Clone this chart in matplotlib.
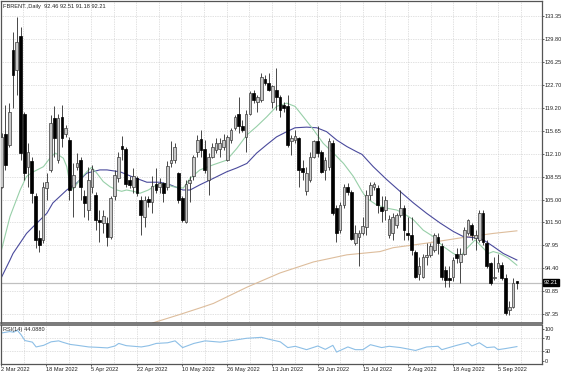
import numpy as np
import matplotlib
matplotlib.use("Agg")
import matplotlib.pyplot as plt
from matplotlib.transforms import blended_transform_factory

plt.rcParams['font.family'] = ['Liberation Sans', 'DejaVu Sans']

# FBRENT daily candles (one entry per bar, 2 Mar - Sep 2022)
opens = [107.0, 115.2, 113.5, 128.1, 125.0, 130.2, 118.3, 110.1, 110.9, 105.5,
         99.1, 98.8, 106.8, 109.6, 117.6, 111.1, 117.8, 115.2, 114.2, 107.0,
         110.1, 111.1, 105.5, 103.4, 107.0, 105.7, 101.9, 101.4, 101.4, 99.3,
         105.5, 108.3, 113.3, 112.9, 108.0, 107.0, 108.3, 105.0, 102.4, 105.1,
         104.7, 107.4, 107.0, 107.6, 107.0, 110.6, 111.1, 109.1, 105.2, 101.6,
         107.6, 108.6, 112.4, 114.3, 112.8, 108.1, 111.6, 112.7, 112.8, 113.2,
         111.1, 114.2, 116.0, 118.3, 116.3, 114.7, 118.3, 121.4, 120.1, 120.4,
         123.7, 123.0, 120.1, 121.9, 120.9, 119.6, 119.4, 114.0, 114.2, 114.5,
         109.9, 106.3, 108.1, 111.6, 114.0, 112.4, 109.6, 110.1, 113.7, 103.7,
         100.3, 104.2, 107.0, 106.2, 98.3, 99.2, 99.8, 100.8, 105.7, 107.0,
         106.8, 103.9, 103.4, 99.6, 99.8, 101.1, 102.6, 103.7, 99.8, 99.6,
         97.0, 93.6, 93.1, 96.2, 96.5, 97.3, 99.3, 97.8, 94.2, 92.9,
         93.1, 96.6, 95.4, 96.7, 99.8, 101.1, 99.1, 98.8, 102.9, 98.3,
         95.2, 92.9, 94.4, 94.9, 92.9, 88.0, 88.5, 92.46]
highs = [115.3, 119.6, 119.9, 130.9, 133.2, 131.7, 118.6, 113.7, 111.6, 106.0,
         100.3, 107.8, 109.1, 118.1, 119.5, 118.3, 119.6, 116.5, 114.7, 110.6,
         112.2, 111.6, 106.5, 110.1, 110.4, 106.2, 103.4, 103.4, 102.4, 105.5,
         109.6, 112.4, 114.8, 113.2, 108.6, 109.9, 108.6, 105.5, 105.5, 105.5,
         108.6, 109.9, 108.3, 107.8, 110.9, 114.0, 113.7, 109.3, 105.5, 108.0,
         108.6, 111.9, 115.0, 115.8, 114.2, 112.2, 113.7, 114.5, 114.5, 115.2,
         115.0, 116.0, 118.1, 120.9, 117.3, 118.8, 121.7, 121.9, 121.2, 124.5,
         124.2, 124.5, 122.7, 125.3, 121.2, 120.1, 121.2, 115.0, 115.8, 114.7,
         111.1, 110.1, 112.4, 114.2, 116.3, 112.7, 111.6, 114.5, 114.2, 104.2,
         104.7, 107.5, 107.6, 106.5, 101.1, 100.3, 102.4, 106.5, 107.8, 107.8,
         107.3, 105.5, 105.5, 102.6, 102.9, 102.9, 106.5, 104.2, 102.4, 102.4,
         97.3, 96.2, 96.7, 98.3, 98.3, 99.8, 99.8, 98.3, 94.7, 94.7,
         96.2, 97.5, 97.5, 100.8, 102.1, 101.4, 100.3, 103.4, 103.4, 98.8,
         95.4, 96.2, 96.7, 95.4, 93.6, 89.3, 92.9, 92.51]
lows = [106.8, 109.6, 113.2, 119.1, 121.2, 111.1, 108.0, 107.0, 104.5, 97.5,
        97.0, 98.3, 105.0, 109.3, 111.6, 110.6, 113.2, 114.7, 105.0, 102.4,
        109.6, 105.0, 102.4, 101.9, 106.0, 100.3, 98.5, 99.8, 97.8, 99.0,
        105.0, 107.8, 111.1, 107.0, 106.8, 106.0, 105.5, 99.6, 100.8, 103.9,
        102.9, 106.0, 106.0, 104.7, 106.5, 110.1, 110.6, 104.5, 101.6, 101.4,
        104.7, 108.0, 111.6, 111.6, 109.1, 105.7, 111.4, 112.2, 111.6, 112.7,
        110.9, 113.7, 115.8, 115.3, 115.5, 112.4, 118.1, 119.9, 118.6, 120.1,
        122.7, 121.7, 119.1, 118.8, 117.8, 118.6, 113.2, 111.9, 113.7, 107.0,
        108.0, 105.7, 107.8, 111.4, 111.6, 109.1, 108.0, 109.6, 102.6, 98.5,
        99.8, 103.7, 105.7, 98.8, 98.0, 94.7, 99.6, 99.6, 104.9, 106.5,
        102.9, 101.6, 101.9, 99.1, 98.8, 100.6, 102.4, 98.8, 98.8, 96.5,
        92.9, 92.6, 92.9, 94.9, 96.2, 97.0, 96.7, 92.6, 91.6, 91.6,
        92.4, 95.2, 92.1, 96.5, 99.6, 98.8, 97.3, 98.5, 98.0, 94.4,
        91.9, 92.6, 93.9, 92.6, 87.2, 87.2, 88.3, 91.18]
closes = [114.7, 110.4, 118.6, 124.3, 129.4, 112.2, 109.1, 112.4, 106.0, 98.8,
          98.0, 107.0, 107.8, 116.8, 114.5, 117.6, 114.5, 116.1, 106.5, 108.8,
          110.7, 107.0, 104.5, 108.1, 109.8, 101.9, 101.6, 102.5, 99.3, 105.2,
          108.8, 111.6, 112.9, 107.5, 107.3, 108.6, 106.0, 102.7, 105.0, 104.7,
          107.1, 106.5, 107.6, 106.0, 110.2, 111.1, 113.2, 105.0, 101.9, 107.5,
          108.1, 111.6, 114.2, 112.7, 109.6, 111.6, 113.2, 113.7, 113.8, 114.2,
          114.7, 115.8, 117.8, 116.3, 115.8, 118.3, 121.4, 120.4, 120.9, 124.0,
          123.0, 121.9, 122.5, 120.9, 118.8, 119.1, 113.5, 114.5, 114.8, 109.6,
          109.3, 109.1, 111.6, 114.0, 112.2, 109.3, 111.1, 114.0, 102.9, 99.8,
          104.2, 107.0, 106.2, 99.0, 99.8, 99.8, 100.9, 105.7, 107.3, 107.5,
          104.2, 103.2, 105.0, 102.1, 102.4, 102.6, 103.7, 100.3, 99.6, 97.3,
          93.1, 94.7, 96.2, 96.5, 97.8, 99.6, 98.3, 93.1, 92.6, 92.6,
          95.7, 96.0, 96.7, 100.3, 101.9, 99.6, 99.6, 102.9, 98.5, 94.7,
          92.1, 93.1, 95.2, 92.9, 87.5, 88.5, 92.1, 92.21]

# moving averages (bar index, value)
ma_fast_idx = [0, 2.2, 4.9, 6.6, 8.4, 11.1, 12.8, 14.2, 15.1, 16.4, 17.3, 18.2, 19.0, 20.8,
               22.6, 23.9, 25.3, 27.0, 28.8, 30.6, 31.9, 33.2, 35.0, 36.8, 39.0, 41.2,
               43.0, 45.6, 48.3, 50.1, 52.7, 56.3, 59.8, 62.5, 65.2, 67.8, 70.5, 73.1,
               75.8, 78.0, 80.2, 82.9, 85.5, 88.2, 90.9, 93.5, 95.8, 97.1, 99.7, 102.4,
               105.1, 106.8, 109.5, 112.1, 114.8, 117.4, 120.1, 121.9, 123.7, 125.9,
               128.1, 129.4, 130.7, 132.5, 134.7, 137.0]
ma_fast_val = [97.4, 102.4, 106.5, 108.6, 109.3, 110.1, 111.4, 112.2, 111.9, 111.4, 110.1,
               107.2, 106.6, 108.1, 109.3, 110.0, 109.1, 107.8, 107.0, 106.5, 106.3, 106.5,
               106.3, 106.0, 106.5, 107.3, 107.5, 107.0, 106.8, 108.3, 109.6, 110.4, 111.1,
               112.9, 115.0, 116.3, 117.8, 119.4, 119.9, 119.4, 117.8, 115.8, 113.7, 112.2,
               110.6, 108.6, 106.3, 105.2, 104.2, 103.7, 103.4, 102.9, 101.9, 100.3, 99.3,
               97.8, 96.7, 96.2, 97.5, 98.8, 97.5, 96.7, 97.0, 96.7, 96.0, 94.9]

ma_slow_idx = [0, 2.2, 3.0, 6.6, 8.3, 12.0, 13.6, 17.3, 20.0, 22.6, 26.1, 28.0, 31.5, 34.9,
               38.6, 42.1, 44.8, 48.2, 50.1, 52.7, 56.3, 59.8, 62.5, 65.2, 67.8, 70.5,
               73.1, 75.8, 78.0, 81.1, 83.8, 86.4, 89.1, 91.8, 94.4, 95.8, 98.8, 102.4,
               105.9, 109.5, 113.0, 116.6, 120.1, 122.8, 126.3, 128.1, 130.7, 133.4, 137.0]
ma_slow_val = [93.1, 95.7, 96.7, 99.8, 100.8, 102.9, 104.5, 106.5, 107.6, 109.1, 109.6,
               109.6, 109.3, 108.5, 107.7, 107.7, 107.3, 106.5, 106.5, 107.3, 108.3, 109.3,
               109.9, 110.6, 112.2, 113.5, 114.7, 115.5, 116.1, 116.2, 116.1, 115.5, 114.2,
               113.2, 112.4, 112.0, 110.1, 108.1, 106.3, 104.5, 102.9, 101.4, 100.1, 99.3,
               99.1, 98.8, 97.8, 96.7, 95.7]

ma_long_idx = [37.0, 40.2, 47.4, 52.7, 56.3, 65.2, 74.0, 82.9, 91.8, 100.6, 104.1, 113.0,
               121.9, 130.7, 137.0]
ma_long_val = [85.0, 86.0, 87.3, 88.3, 89.0, 91.5, 93.7, 95.4, 96.5, 97.0, 97.6, 98.3,
               99.1, 99.8, 100.2]

# RSI(14)
rsi_idx = [0, 2, 3, 4, 5, 6, 8, 9, 11, 13, 15, 16, 18, 20, 23, 25, 28, 30, 31, 33, 37,
           39, 41, 44, 46, 48, 51, 54, 58, 62, 65, 69, 71, 74, 76, 78, 81, 84, 86, 88,
           89, 92, 94, 96, 98, 101, 103, 106, 110, 113, 116, 117, 121, 124, 125, 127,
           129, 131, 132, 134, 137]
rsi_val = [87, 91, 89, 95, 81, 63, 58, 43, 48, 59, 62, 58, 51, 48, 43, 42, 40, 46, 54,
           47, 43, 47, 54, 56, 62, 41, 54, 62, 58, 64.5, 70, 73, 67, 59, 41, 45, 34.5,
           46, 35.5, 48, 27, 43, 34.5, 34.5, 50, 41, 45, 41, 32, 43, 45, 34.5, 48, 57,
           46, 56, 41, 43, 34.5, 38, 44.09]

price_ticks = [133.35, 129.80, 126.25, 122.70, 119.20, 115.65, 112.10, 108.55,
               105.00, 101.50, 97.95, 94.40, 90.85, 87.35]
rsi_ticks = [100, 70, 30, 0]
date_labels = ['2 Mar 2022', '18 Mar 2022', '5 Apr 2022', '22 Apr 2022', '10 May 2022',
               '26 May 2022', '13 Jun 2022', '29 Jun 2022', '15 Jul 2022', '2 Aug 2022',
               '18 Aug 2022', '5 Sep 2022']

o = np.array(opens)
h = np.array(highs)
l = np.array(lows)
c = np.array(closes)
x = np.arange(len(c))
last = c[-1]

grid_c = '#c4c4c4'
edge_c = '#555555'
txt_c = '#222222'
fs = 4.1

fig = plt.figure(figsize=(5.64, 3.76), dpi=100)
ax = fig.add_axes([1 / 564, 1 - 323 / 376, 540.7 / 564, 322 / 376])
ax2 = fig.add_axes([1 / 564, 1 - 364 / 376, 540.7 / 564, 39.5 / 376])

xmin, xmax = -0.19, 143.6
# vertical grid every 6 bars, date label every 12
grid_x = np.arange(len(date_labels) * 2 + 1) * 6.02 - 0.35

# ---- price panel
for gx in grid_x:
    ax.axvline(gx, color=grid_c, lw=0.5, ls=(0, (1, 1.5)), zorder=0)
for py in price_ticks:
    ax.axhline(py, color=grid_c, lw=0.5, ls=(0, (1, 1.5)), zorder=0)
ax.axhline(last, color='#c0c0c0', lw=0.9, zorder=1)

ax.plot(ma_long_idx, ma_long_val, color='#ddbd9c', lw=0.8, zorder=2)
ax.plot(ma_slow_idx, ma_slow_val, color='#4a4a9c', lw=0.8, zorder=2)
ax.plot(ma_fast_idx, ma_fast_val, color='#97cfa8', lw=0.8, zorder=2)

up = c >= o
ax.vlines(x, l, h, color='#2a2a2a', lw=0.6, zorder=3)
body = np.maximum(np.abs(c - o), 0.12)
ax.bar(x[up], body[up], bottom=o[up], width=0.72, color='#c8c8c8',
       edgecolor='#3a3a3a', linewidth=0.5, zorder=4)
ax.bar(x[~up], body[~up], bottom=c[~up], width=0.72, color='#000000',
       edgecolor='#000000', linewidth=0.5, zorder=4)

ax.set_xlim(xmin, xmax)
ax.set_ylim(85.98, 135.66)
ax.set_xticks([])
ax.yaxis.tick_right()
ax.set_yticks(price_ticks)
ax.set_yticklabels(['%.2f' % v for v in price_ticks])
ax.tick_params(axis='y', length=1.5, width=0.5, pad=0.6, labelsize=fs,
               colors=txt_c)
for s in ax.spines.values():
    s.set_color(edge_c)
    s.set_linewidth(0.9)
ax.spines['bottom'].set_linewidth(1.1)

ax.text(0.004, 0.99, 'FBRENT.,Daily  92.46 92.51 91.18 92.21', transform=ax.transAxes,
        ha='left', va='top', fontsize=fs, color=txt_c)
tr = blended_transform_factory(ax.transAxes, ax.transData)
ax.text(1.004, last, '%.2f' % last, transform=tr, ha='left', va='center',
        fontsize=fs, color='white',
        bbox=dict(boxstyle='square,pad=0.15', fc='black', ec='black'))

# ---- RSI panel
for gx in grid_x:
    ax2.axvline(gx, color=grid_c, lw=0.5, ls=(0, (1, 1.5)), zorder=0)
for ry in (70, 30):
    ax2.axhline(ry, color=grid_c, lw=0.5, ls=(0, (1, 1.5)), zorder=0)
ax2.plot(rsi_idx, rsi_val, color='#8dbfe6', lw=0.8, zorder=2)
ax2.set_xlim(xmin, xmax)
ax2.set_ylim(-10.3, 113.1)
ax2.yaxis.tick_right()
ax2.set_yticks(rsi_ticks)
ax2.set_yticklabels([str(v) for v in rsi_ticks])
ax2.tick_params(axis='y', length=1.5, width=0.5, pad=0.6, labelsize=fs,
                colors=txt_c)
ax2.set_xticks(grid_x[::2][:len(date_labels)])
ax2.set_xticklabels(date_labels, ha='left')
ax2.tick_params(axis='x', length=1.5, width=0.5, pad=0.5, labelsize=fs,
                colors=txt_c)
for s in ax2.spines.values():
    s.set_color(edge_c)
    s.set_linewidth(0.9)
ax2.spines['top'].set_linewidth(1.1)
ax2.text(0.004, 0.93, 'RSI(14) 44.0880', transform=ax2.transAxes, ha='left',
         va='top', fontsize=fs, color=txt_c)

fig.savefig('out.png', dpi=100, facecolor='white')
